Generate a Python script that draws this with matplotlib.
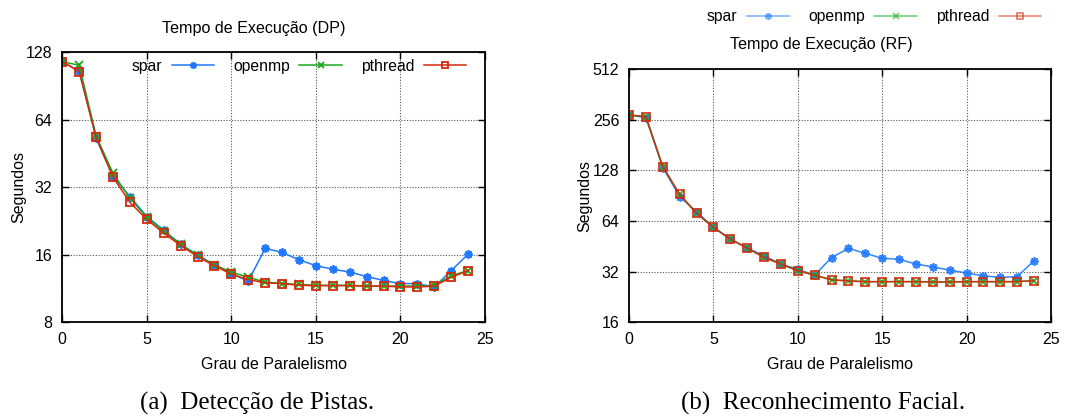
import numpy as np
import matplotlib
matplotlib.use('Agg')
import matplotlib.pyplot as plt
from matplotlib.ticker import FixedLocator, NullLocator

plt.rcParams.update({'font.family': ['Liberation Sans', 'DejaVu Sans'], 'font.size': 11.5})

# Grau de paralelismo (0..24)
grau = np.arange(25)

# --- Tempo de Execucao (DP) ---
dp_spar = [116.3, 105.5, 52.9, 35.7, 29.1, 23.7, 20.6, 17.8, 16.0, 14.4, 13.2, 12.2,
           17.1, 16.4, 15.2, 14.3, 13.8, 13.4, 12.8, 12.3, 11.9, 11.9, 11.5, 13.6, 16.1]
dp_openmp = [116.3, 112.0, 54.2, 36.9, 28.6, 23.5, 20.4, 17.8, 15.9, 14.4, 13.4, 12.7,
             12.1, 11.9, 11.8, 11.7, 11.7, 11.7, 11.6, 11.6, 11.6, 11.6, 11.7, 12.9, 13.6]
dp_pthread = [116.3, 105.0, 53.5, 35.5, 27.4, 23.0, 20.0, 17.6, 15.7, 14.3, 13.1, 12.4,
              12.0, 11.9, 11.7, 11.65, 11.65, 11.65, 11.6, 11.6, 11.5, 11.5, 11.6, 12.7, 13.6]

# --- Tempo de Execucao (RF) ---
rf_spar = [272.9, 263.0, 133.0, 89.3, 72.7, 58.7, 50.0, 44.2, 39.8, 35.5, 33.0, 30.5,
           38.8, 44.0, 41.1, 38.4, 37.9, 35.5, 34.1, 32.7, 31.4, 30.2, 29.6, 29.9, 37.2]
rf_openmp = [272.9, 266.7, 134.6, 92.2, 71.1, 58.7, 50.0, 44.2, 38.9, 35.5, 32.4, 30.5,
             28.6, 28.2, 27.9, 27.9, 27.9, 27.9, 27.8, 27.8, 27.9, 27.9, 27.9, 27.9, 28.3]
rf_pthread = [272.9, 266.7, 134.6, 92.2, 71.1, 58.7, 50.0, 44.2, 38.9, 35.5, 32.4, 30.5,
              28.6, 28.2, 27.9, 27.9, 27.9, 27.9, 27.8, 27.8, 27.9, 27.9, 27.9, 27.9, 28.3]

series_labels = ['spar', 'openmp', 'pthread']
colors = ['#1f78ff', '#19a819', '#d42a0a']
# gnuplot-like point types: asterisk, cross, open square
markers = [(8, 2, 0), 'x', 's']

fig = plt.figure(figsize=(10.8, 4.16), dpi=100)
ax_dp = fig.add_axes([62.3/1080, 1 - 322.3/416, (485 - 62.3)/1080, (322.3 - 52.3)/416])
ax_rf = fig.add_axes([629/1080, 1 - 322.3/416, (1051 - 629)/1080, (322.3 - 69)/416])


def draw(ax, data, yticks, ylim, alpha):
    handles = []
    for vals, lab, c, m in zip(data, series_labels, colors, markers):
        mfc = 'none' if m == 's' else c
        h, = ax.plot(grau, vals, color=c, lw=1.1, marker=m, ms=6 if m != 'x' else 5.5,
                     mfc=mfc, mec=c, mew=1.3, label=lab, alpha=alpha)
        handles.append(h)
    ax.set_yscale('log', base=2)
    ax.set_ylim(*ylim)
    ax.yaxis.set_major_locator(FixedLocator(yticks))
    ax.yaxis.set_minor_locator(NullLocator())
    ax.set_yticklabels([str(t) for t in yticks])
    ax.set_xlim(0, 25)
    ax.set_xticks([0, 5, 10, 15, 20, 25])
    ax.grid(True, color='#555555', ls=(0, (1, 1.5)), lw=0.8)
    ax.tick_params(direction='in', top=True, right=True, length=5, width=1, pad=7)
    for s in ax.spines.values():
        s.set_linewidth(1.3)
    ax.set_xlabel('Grau de Paralelismo', labelpad=7)
    ax.set_ylabel('Segundos', labelpad=0)
    return handles


h_dp = draw(ax_dp, [dp_spar, dp_openmp, dp_pthread], [8, 16, 32, 64, 128], (8, 128), 1.0)
h_rf = draw(ax_rf, [rf_spar, rf_openmp, rf_pthread], [16, 32, 64, 128, 256, 512], (16, 512), 0.9)

fig.text(254/1080, 1 - 29/416, 'Tempo de Execução (DP)', ha='center', va='center', fontsize=11.6)
fig.text(821/1080, 1 - 45/416, 'Tempo de Execução (RF)', ha='center', va='center', fontsize=11.6)

legend_kw = dict(ncol=3, markerfirst=False, frameon=False, handlelength=2.7,
                 handletextpad=0.6, columnspacing=1.2, borderpad=0, fontsize=11.3,
                 markerscale=0.8)
fig.legend(handles=h_dp, loc='center', bbox_to_anchor=(299/1080, 1 - 66/416), **legend_kw)
leg_rf = fig.legend(handles=h_rf, loc='center', bbox_to_anchor=(874/1080, 1 - 17/416), **legend_kw)
for lh in leg_rf.legend_handles:
    lh.set_alpha(0.6)

fig.text(257/1080, 1 - 403/416, '(a)  Detecção de Pistas.', ha='center', va='center',
         family=['Liberation Serif', 'DejaVu Serif'], fontsize=18)
fig.text(823/1080, 1 - 403/416, '(b)  Reconhecimento Facial.', ha='center', va='center',
         family=['Liberation Serif', 'DejaVu Serif'], fontsize=18)

fig.savefig('out.png', dpi=100)
